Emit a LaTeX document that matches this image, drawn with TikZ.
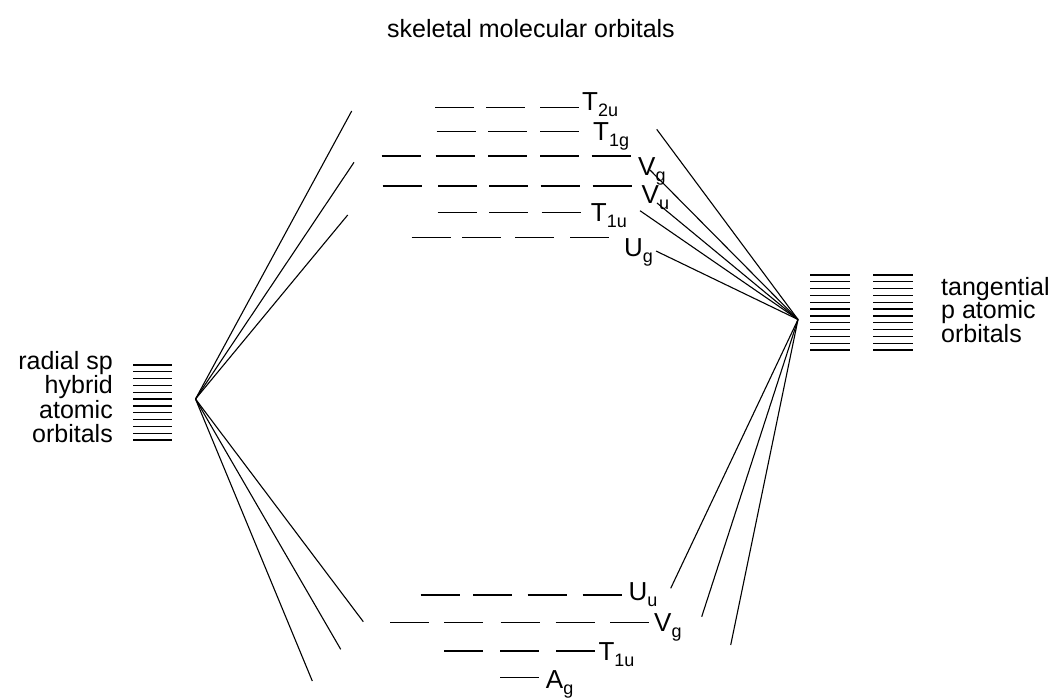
\documentclass[tikz,border=0pt]{standalone}
\usepackage{fontspec}
\setmainfont{Liberation Sans}
\newcommand{\sublab}[2]{#1\raisebox{-6pt}{\fontsize{18}{18}\selectfont #2}}
\begin{document}
\begin{tikzpicture}[x=1pt,y=-1pt,
  lvl/.style={line width=1.3pt},
  conn/.style={line width=1.1pt},
  lab/.style={anchor=base west, inner sep=0pt, font=\fontsize{26}{26}\selectfont},
  txt/.style={inner sep=0pt, font=\fontsize{25}{25}\selectfont}]
\useasboundingbox (0,0) rectangle (1056,699);
% title
\node[txt, anchor=base] (title) at (531,37) {skeletal molecular orbitals};
% left text
\node[txt, anchor=base east] (l1) at (113,369) {radial sp};
\node[txt, anchor=base east] (l2) at (113,393.5) {hybrid};
\node[txt, anchor=base east] (l3) at (113,418) {atomic};
\node[txt, anchor=base east] (l4) at (113,442.5) {orbitals};
% right text
\node[txt, anchor=base west] (r1) at (941,295) {tangential};
\node[txt, anchor=base west] (r2) at (941,318.5) {p atomic};
\node[txt, anchor=base west] (r3) at (941,342) {orbitals};
% stacks
\foreach \i in {0,...,11} {
  \draw[lvl] (133,{365+\i*6.82}) -- ++(39,0);
  \draw[lvl] (810,{275+\i*6.82}) -- ++(40,0);
  \draw[lvl] (873,{275+\i*6.82}) -- ++(40,0);
}
% upper levels
\foreach \x in {435.3,486,540} \draw[lvl] (\x,107.3) -- ++(39,0);
\node[lab] (T2u) at (582,110.7) {\sublab{T}{2u}};
\foreach \x in {436.7,488.3,540} \draw[lvl] (\x,131.7) -- ++(39,0);
\node[lab] (T1g) at (593,140) {\sublab{T}{1g}};
\foreach \x in {381.7,435.7,488,540,591.7} \draw[lvl] (\x,156) -- ++(39,0);
\node[lab] (Vg) at (638,175) {\sublab{V}{g}};
\foreach \x in {382.7,438.3,489,540.7,592.7} \draw[lvl] (\x,186) -- ++(39,0);
\node[lab] (Vu) at (641.5,203.3) {\sublab{V}{u}};
\foreach \x in {437.7,489,541.7} \draw[lvl] (\x,212.7) -- ++(39,0);
\node[lab] (T1u) at (590.7,221.7) {\sublab{T}{1u}};
\foreach \x in {411.7,462,515.3,570} \draw[lvl] (\x,237.3) -- ++(39,0);
\node[lab] (Ug) at (624,256.7) {\sublab{U}{g}};
% lower levels
\foreach \x in {420.7,473.3,527.7,582.7} \draw[lvl] (\x,595) -- ++(39,0);
\node[lab] (Uu) at (628.3,600.5) {\sublab{U}{u}};
\foreach \x in {390,444,500.7,555.7,610} \draw[lvl] (\x,622.3) -- ++(39,0);
\node[lab] (Vg2) at (654,631.7) {\sublab{V}{g}};
\foreach \x in {444,500,556} \draw[lvl] (\x,651) -- ++(39,0);
\node[lab] (T1u2) at (598.3,660.7) {\sublab{T}{1u}};
\draw[lvl] (500,677.7) -- ++(39,0);
\node[lab] (Ag) at (545.7,688) {\sublab{A}{g}};
% apexes and connector ends
\coordinate (L) at (195.5,399);
\coordinate (R) at (798,319.5);
\coordinate (lu1) at (351.7,111);
\coordinate (lu2) at (354,162.3);
\coordinate (lu3) at (347.7,215);
\coordinate (ll1) at (312.3,681);
\coordinate (ll2) at (340.7,649.3);
\coordinate (ll3) at (363.3,621.7);
\coordinate (ru1) at (656.7,129.3);
\coordinate (ru2) at (650,170);
\coordinate (ru3) at (657,203);
\coordinate (ru4) at (640,210.7);
\coordinate (ru5) at (656,251);
\coordinate (rl1) at (670.7,588.3);
\coordinate (rl2) at (701.7,616.7);
\coordinate (rl3) at (730.7,645);
\foreach \e in {lu1,lu2,lu3,ll1,ll2,ll3} \draw[conn] (L) -- (\e);
\foreach \e in {ru1,ru2,ru3,ru4,ru5,rl1,rl2,rl3} \draw[conn] (R) -- (\e);
\end{tikzpicture}
\end{document}
